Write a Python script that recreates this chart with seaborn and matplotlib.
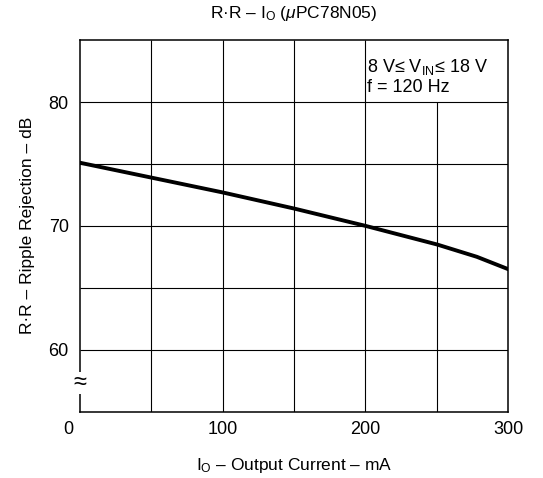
import matplotlib
matplotlib.use("Agg")
import matplotlib.pyplot as plt
import matplotlib.transforms as mtransforms
import numpy as np
import pandas as pd
import seaborn as sns

# curve
CURRENT_MA = [0, 50, 100, 150, 200, 250, 278, 300]
RIPPLE_DB = [75.1, 73.9, 72.7, 71.4, 70.0, 68.5, 67.5, 66.5]

X_TICKS = [0, 100, 200, 300]
Y_TICKS = [60, 70, 80]
X_GRID = [50, 100, 150, 200, 250]
Y_GRID = [60, 65, 70, 75, 80]

TITLE = "R·R – I$_\\mathregular{O}$ ($\\mu$PC78N05)"
XLABEL = "I$_\\mathregular{O}$ – Output Current – mA"
YLABEL = "R·R – Ripple Rejection – dB"
NOTE = "8 V\u2264 V$_\\mathregular{IN}$\u2264 18 V\nf = 120 Hz"

sns.set_theme(style="white")
plt.rcParams["font.family"] = ["Liberation Sans", "DejaVu Sans"]
plt.rcParams["mathtext.fontset"] = "custom"
plt.rcParams["mathtext.rm"] = "Liberation Sans"
plt.rcParams["mathtext.it"] = "Liberation Sans:italic"
plt.rcParams["text.color"] = "black"
plt.rcParams["axes.labelcolor"] = "black"

fig = plt.figure(figsize=(5.43, 4.78), dpi=100)
ax = fig.add_axes([0.147, 0.139, 0.789, 0.777])

ax.set_xlim(0, 300)
ax.set_ylim(55, 85)

# grid: the 250 mA line stops under the condition box
for xv in X_GRID:
    top = 80 if xv == 250 else 85
    ax.vlines(xv, 55, top, color="black", linewidth=0.8, zorder=1)
for yv in Y_GRID:
    ax.hlines(yv, 0, 300, color="black", linewidth=0.8, zorder=1)

df = pd.DataFrame({"Io": CURRENT_MA, "RR": RIPPLE_DB})
sns.lineplot(data=df, x="Io", y="RR", color="black", linewidth=2.8, ax=ax, zorder=3)

for s in ax.spines.values():
    s.set_color("black")
    s.set_linewidth(1.1)

ax.set_xticks(X_TICKS)
ax.set_yticks(Y_TICKS)
ax.tick_params(axis="both", length=0, labelsize=13, colors="black")
ax.tick_params(axis="x", pad=7)
ax.tick_params(axis="y", pad=8)
lbl0 = ax.get_xticklabels()[0]
lbl0.set_transform(lbl0.get_transform() + mtransforms.ScaledTranslation(-0.12, 0, fig.dpi_scale_trans))

ax.set_xlabel(XLABEL, fontsize=12.5, labelpad=13)
ax.set_ylabel(YLABEL, fontsize=12.5, labelpad=10)
ax.set_title(TITLE, fontsize=12.5, pad=16)

ax.text(201, 83.6, NOTE, fontsize=13, ha="left", va="top", linespacing=1.15, zorder=4)

# axis break mark on the left spine
ax.text(0, 57.3, "\u2248", fontsize=17, ha="center", va="center",
        bbox=dict(facecolor="white", edgecolor="none", pad=0.1), zorder=5, clip_on=False)

fig.savefig("out.png", dpi=100)
